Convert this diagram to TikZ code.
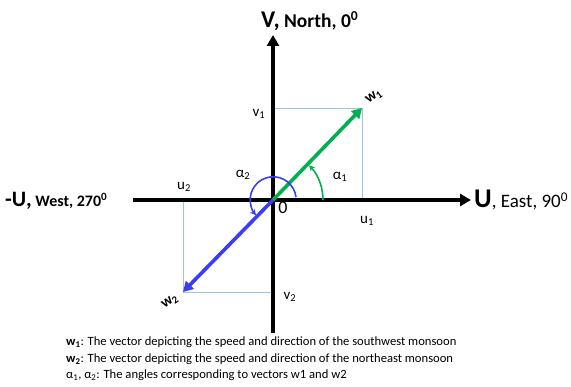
\documentclass[tikz,border=0pt]{standalone}
\usepackage{fontspec}
\setmainfont{Carlito}
\usetikzlibrary{arrows.meta}
\definecolor{windgreen}{HTML}{00B050}
\definecolor{windblue}{HTML}{3C3CF5}
\definecolor{guide}{HTML}{9DC3E6}

\begin{document}
\begin{tikzpicture}[
  x=1pt, y=-1pt,
  axis/.style={line width=4pt, -{Triangle[length=11pt, width=12pt]}},
  vec/.style={line width=3.6pt, -{Triangle[length=10pt, width=11pt]}},
  proj/.style={draw=guide, line width=0.7pt},
  turn/.style={line width=1.6pt, -{Stealth[length=6pt, width=6pt]}},
  lbl/.style={font=\fontsize{15}{17}\selectfont, inner sep=1pt},
  axlbl/.style={anchor=base west, inner sep=0pt},
]
\useasboundingbox (0,0) rectangle (571,387);
\coordinate (O) at (273,200);
\coordinate (vtop) at (273,35);
\coordinate (vbot) at (273,333);
\coordinate (uleft) at (133,200);
\coordinate (uright) at (471,200);
\coordinate (w1tip) at (362,108);
\coordinate (w2tip) at (183,292);
\coordinate (v1pt) at (273,108);
\coordinate (u1pt) at (362,200);
\coordinate (v2pt) at (273,292);
\coordinate (u2pt) at (183,200);

\draw[proj] (v1pt) -- (w1tip) -- (u1pt);
\draw[proj] (v2pt) -- (w2tip) -- (u2pt);

\draw[axis] (vbot) -- (vtop);
\draw[axis] (uleft) -- (uright);

\draw[vec, windgreen] (O) -- (w1tip);
\draw[vec, windblue] (O) -- (w2tip);

\draw[turn, windgreen] ([shift={(50,0)}]O) arc[start angle=0, end angle=-44, radius=50];
\draw[turn, windblue] ([shift={(23,-3)}]O) arc[start angle=-7, end angle=-222, radius=23];

\node[axlbl] (vname) at (261,28) {\fontsize{24}{26}\selectfont\bfseries V,\fontsize{19.5}{21}\selectfont{} North, 0\textsuperscript{0}};
\node[axlbl] (wname) at (5,207) {\fontsize{22}{24}\selectfont\bfseries -U,\fontsize{16}{18}\selectfont{} West, 270\textsuperscript{0}};
\node[axlbl] (ename) at (474,208) {\fontsize{27}{29}\selectfont\bfseries U\fontsize{19}{21}\mdseries\selectfont, East, 90\textsuperscript{0}};

\node[lbl] (v1) at (259,114) {v\textsubscript{1}};
\node[lbl] (u1) at (367,221) {u\textsubscript{1}};
\node[lbl] (u2) at (184,187) {u\textsubscript{2}};
\node[lbl] (v2) at (290,297) {v\textsubscript{2}};
\node[lbl] (a1) at (340,177) {α\textsubscript{1}};
\node[lbl] (a2) at (243,175) {α\textsubscript{2}};
\node[lbl, font=\fontsize{18}{20}\selectfont] (zero) at (283,208) {0};
\node[lbl, rotate=35, font=\fontsize{15}{17}\selectfont\bfseries] (w1) at (374,97) {w\textsubscript{1}};
\node[lbl, rotate=35, font=\fontsize{15}{17}\selectfont\bfseries] (w2) at (170,302) {w\textsubscript{2}};

\node[anchor=north west, align=left, inner sep=0pt, font=\fontsize{12.6}{16.5}\selectfont] (legend) at (66,337)
  {\textbf{w\textsubscript{1}}: The vector depicting the speed and direction of the southwest monsoon\\
   \textbf{w\textsubscript{2}}: The vector depicting the speed and direction of the northeast monsoon\\
   α\textsubscript{1}, α\textsubscript{2}: The angles corresponding to vectors w1 and w2};
\end{tikzpicture}
\end{document}
